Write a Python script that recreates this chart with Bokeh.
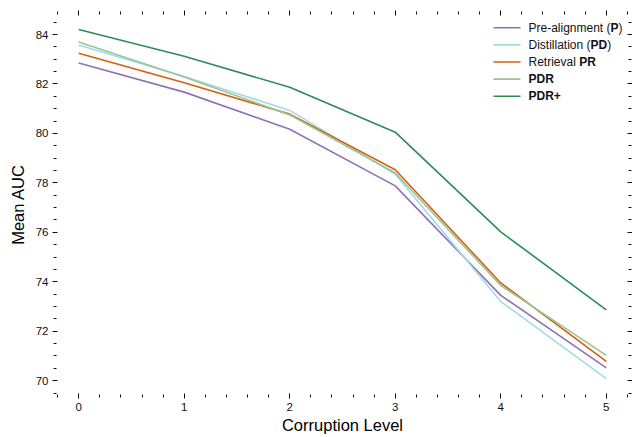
from bokeh.plotting import figure
from bokeh.models import Range1d, LinearAxis, SingleIntervalTicker, Label, CustomJSTickFormatter
from bokeh.embed import file_html
from bokeh.resources import INLINE

# ---- data ----
levels = [0, 1, 2, 3, 4, 5]
pre_alignment = [82.85, 81.67, 80.17, 77.88, 73.45, 70.52]
distillation = [83.58, 82.30, 80.93, 78.35, 73.20, 70.08]
retrieval = [83.24, 82.05, 80.78, 78.53, 73.95, 70.78]
pdr = [83.70, 82.28, 80.75, 78.40, 73.85, 71.02]
pdr_plus = [84.20, 83.12, 81.87, 80.05, 76.02, 72.86]

series_names = ["Pre-alignment (P)", "Distillation (PD)", "Retrieval PR", "PDR", "PDR+"]
series_values = [pre_alignment, distillation, retrieval, pdr, pdr_plus]
colors = ["#8d72b8", "#a3dbe3", "#d65f0e", "#98c595", "#2e8b57"]

# legend text fragments (text, bold)
legend_parts = [
    [("Pre-alignment (", False), ("P", True), (")", False)],
    [("Distillation (", False), ("PD", True), (")", False)],
    [("Retrieval ", False), ("PR", True)],
    [("PDR", True)],
    [("PDR+", True)],
]

# ---- layout ----
W, H = 632, 437
BL, BR, BT, BB = 55, 3, 13, 42
FW, FH = W - BL - BR, H - BT - BB
x0, x1 = -0.22, 5.22
y0, y1 = 69.4, 84.85
FONT = "Liberation Sans"

p = figure(width=W, height=H, x_range=Range1d(x0, x1), y_range=Range1d(y0, y1),
           output_backend="svg", toolbar_location=None,
           min_border_left=BL, min_border_right=BR, min_border_top=BT, min_border_bottom=BB,
           outline_line_color=None, background_fill_color="white", border_fill_color="white")
p.grid.visible = False

p.add_layout(LinearAxis(), "right")
p.add_layout(LinearAxis(), "above")

for ax in p.xaxis:
    ax.ticker = SingleIntervalTicker(interval=1, num_minor_ticks=5)
for ax in p.yaxis:
    ax.ticker = SingleIntervalTicker(interval=2, num_minor_ticks=4)

for ax in p.axis:
    ax.axis_line_color = None
    ax.major_tick_in = 2
    ax.major_tick_out = 3
    ax.minor_tick_in = 1
    ax.minor_tick_out = 2
    ax.major_tick_line_color = "#111111"
    ax.minor_tick_line_color = "#111111"
    ax.major_tick_line_width = 1
    ax.minor_tick_line_width = 1
    ax.major_label_text_font = FONT
    ax.major_label_text_font_size = "11.5px"
    ax.major_label_text_color = "#111111"
    ax.axis_label_text_font = FONT
    ax.axis_label_text_font_size = "16.5px"
    ax.axis_label_text_font_style = "normal"
    ax.axis_label_text_color = "#000000"

p.right[0].formatter = CustomJSTickFormatter(code="return ''")
p.right[0].major_label_standoff = 0
p.above[0].formatter = CustomJSTickFormatter(code="return ''")
p.above[0].major_label_standoff = 0

p.below[0].axis_label = "Corruption Level"
p.below[0].major_label_standoff = 4
p.below[0].axis_label_standoff = 2
p.left[0].axis_label = "Mean AUC"
p.left[0].major_label_standoff = 4
p.left[0].axis_label_standoff = 6

for name, vals, c in zip(series_names, series_values, colors):
    p.line(levels, vals, line_color=c, line_width=1.6)

# ---- manual legend (mixed bold text) ----
def X(px):
    return x0 + px / FW * (x1 - x0)

def Y(py):
    return y1 - py / FH * (y1 - y0)

row_offsets = [14.3, 31.4, 48.5, 65.6, 82.7]
sw0, sw1, tx = 438, 465, 473
p.segment(x0=[X(sw0)] * 5, x1=[X(sw1)] * 5,
          y0=[Y(r) for r in row_offsets], y1=[Y(r) for r in row_offsets],
          line_color=colors, line_width=1.6)

# Arial / Liberation Sans advance widths (per 1000 em)
NORM = {'P': 667, 'r': 333, 'e': 556, '-': 333, 'a': 556, 'l': 222, 'i': 222, 'g': 556,
        'n': 556, 'm': 833, 't': 278, ' ': 278, '(': 333, ')': 333, 'D': 722, 's': 500,
        'o': 556, 'R': 722, 'v': 500}
BOLD = {'P': 667, 'D': 722, 'R': 722, '+': 584}
FS = 12

for r, parts in zip(row_offsets, legend_parts):
    off = 0.0
    for txt, bold in parts:
        p.add_layout(Label(x=X(tx + off), y=Y(r), text=txt, text_baseline="middle",
                           text_align="left", text_font=FONT, text_font_size=f"{FS}px",
                           text_font_style="bold" if bold else "normal",
                           text_color="#111111"))
        table = BOLD if bold else NORM
        off += sum(table.get(ch, 556) for ch in txt) * FS / 1000.0

open("out.html", "w").write(file_html(p, INLINE))
